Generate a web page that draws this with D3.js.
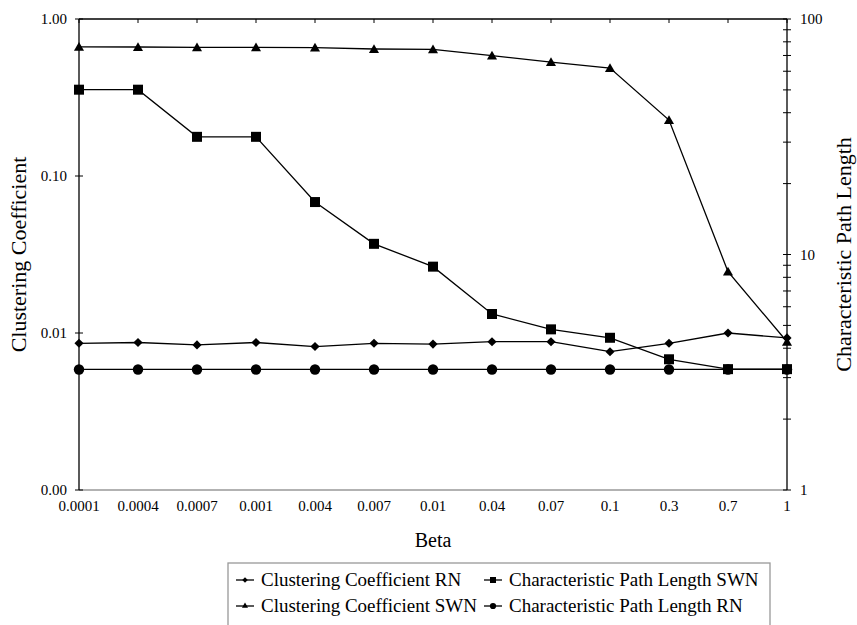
<!DOCTYPE html>
<html>
<head>
<meta charset="utf-8">
<script src="https://cdn.jsdelivr.net/npm/d3@7"></script>
<style>
  body { margin: 0; background: #fff; }
  svg text { font-family: "Liberation Serif", "Times New Roman", serif; fill: #000; }
</style>
</head>
<body>
<div id="vis"></div>
<script>
var betas = ["0.0001", "0.0004", "0.0007", "0.001", "0.004", "0.007", "0.01", "0.04", "0.07", "0.1", "0.3", "0.7", "1"];

// left axis (clustering coefficient)
var ccRN = [0.0086, 0.0087, 0.0084, 0.0087, 0.0082, 0.0086, 0.0085, 0.0088, 0.0088, 0.0076, 0.0086, 0.0100, 0.0093];
var ccSWN = [0.665, 0.663, 0.660, 0.660, 0.657, 0.644, 0.641, 0.584, 0.532, 0.487, 0.227, 0.0246, 0.0088];

// right axis (characteristic path length)
var cplSWN = [50.1, 50.1, 31.6, 31.6, 16.7, 11.1, 8.88, 5.59, 4.81, 4.43, 3.59, 3.26, 3.26];
var cplRN = [3.25, 3.25, 3.25, 3.25, 3.25, 3.25, 3.25, 3.25, 3.25, 3.25, 3.25, 3.25, 3.25];

var leftTicks = [0.001, 0.01, 0.1, 1];
var rightTicks = [1, 10, 100];

var W = 857, H = 625;
var margin = { top: 19, left: 79, right: 70, bottom: 135 };
var x0 = margin.left, x1 = W - margin.right;
var y0 = margin.top, y1 = H - margin.bottom;

var svg = d3.select("#vis").append("svg")
    .attr("width", W)
    .attr("height", H);

var xscale = d3.scalePoint().domain(betas).range([x0, x1]);
var yLeft = d3.scaleLog().domain([0.001, 1]).range([y1, y0]);
var yRight = d3.scaleLog().domain([1, 100]).range([y1, y0]);

// frame: top line with category ticks, bottom grey line
svg.append("line").attr("x1", x0).attr("x2", x1).attr("y1", y0).attr("y2", y0)
    .attr("stroke", "#000").attr("stroke-width", 1.3);
svg.selectAll(".topTick").data(betas).enter().append("line")
    .attr("x1", function(d) { return xscale(d); })
    .attr("x2", function(d) { return xscale(d); })
    .attr("y1", y0).attr("y2", y0 + 4)
    .attr("stroke", "#000").attr("stroke-width", 1);
svg.append("line").attr("x1", x0).attr("x2", x1).attr("y1", y1).attr("y2", y1)
    .attr("stroke", "#999").attr("stroke-width", 1.3);

// x labels
svg.selectAll(".xlab").data(betas).enter().append("text")
    .attr("x", function(d) { return xscale(d); })
    .attr("y", y1 + 21)
    .attr("text-anchor", "middle")
    .style("font-size", "15px")
    .text(function(d) { return d; });

// left axis
svg.append("line").attr("x1", x0).attr("x2", x0).attr("y1", y0).attr("y2", y1)
    .attr("stroke", "#000").attr("stroke-width", 1.3);
svg.selectAll(".lt").data(leftTicks).enter().append("line")
    .attr("x1", x0 - 4).attr("x2", x0 + 4)
    .attr("y1", function(d) { return yLeft(d); })
    .attr("y2", function(d) { return yLeft(d); })
    .attr("stroke", "#000");
svg.selectAll(".ll").data(leftTicks).enter().append("text")
    .attr("x", x0 - 12)
    .attr("y", function(d) { return yLeft(d) + 5; })
    .attr("text-anchor", "end")
    .style("font-size", "15px")
    .text(function(d) { return d3.format(".2f")(d); });

// right axis
svg.append("line").attr("x1", x1).attr("x2", x1).attr("y1", y0).attr("y2", y1)
    .attr("stroke", "#000").attr("stroke-width", 1.3);
var minor = [];
[1, 10].forEach(function(b) { for (var k = 1; k <= 10; k++) minor.push(b * k); });
svg.selectAll(".rt").data(minor).enter().append("line")
    .attr("x1", x1 - 4).attr("x2", x1 + 4)
    .attr("y1", function(d) { return yRight(d); })
    .attr("y2", function(d) { return yRight(d); })
    .attr("stroke", "#000");
svg.selectAll(".rl").data(rightTicks).enter().append("text")
    .attr("x", x1 + 13)
    .attr("y", function(d) { return yRight(d) + 5; })
    .style("font-size", "15px")
    .text(function(d) { return d; });

// axis titles
svg.append("text")
    .attr("transform", "translate(26," + ((y0 + y1) / 2) + ") rotate(-90)")
    .attr("text-anchor", "middle")
    .style("font-size", "22px")
    .text("Clustering Coefficient");
svg.append("text")
    .attr("transform", "translate(851," + ((y0 + y1) / 2) + ") rotate(-90)")
    .attr("text-anchor", "middle")
    .style("font-size", "22px")
    .text("Characteristic Path Length");
svg.append("text")
    .attr("x", (x0 + x1) / 2).attr("y", 547)
    .attr("text-anchor", "middle")
    .style("font-size", "20px")
    .text("Beta");

// series
var series = [
    { name: "Clustering Coefficient RN", values: ccRN, y: yLeft, shape: "diamond" },
    { name: "Clustering Coefficient SWN", values: ccSWN, y: yLeft, shape: "triangle" },
    { name: "Characteristic Path Length SWN", values: cplSWN, y: yRight, shape: "square" },
    { name: "Characteristic Path Length RN", values: cplRN, y: yRight, shape: "circle" }
];

function marker(shape, scale) {
    var s = scale || 1;
    if (shape === "diamond") return d3.symbol().type(d3.symbolSquare).size(42 * s * s)();
    if (shape === "triangle") return d3.symbol().type(d3.symbolTriangle).size(44 * s * s)();
    if (shape === "square") return d3.symbol().type(d3.symbolSquare).size(100 * s * s)();
    return d3.symbol().type(d3.symbolCircle).size(85 * s * s)();
}

series.forEach(function(s) {
    var line = d3.line()
        .x(function(d, i) { return xscale(betas[i]); })
        .y(function(d) { return s.y(d); });
    svg.append("path")
        .datum(s.values)
        .attr("d", line)
        .attr("fill", "none")
        .attr("stroke", "#000")
        .attr("stroke-width", 1.3);
    svg.selectAll(".m-" + s.shape).data(s.values).enter().append("path")
        .attr("d", marker(s.shape))
        .attr("transform", function(d, i) {
            var t = "translate(" + xscale(betas[i]) + "," + s.y(d) + ")";
            if (s.shape === "diamond") t += " rotate(45)";
            if (s.shape === "triangle") t += " translate(0,1)";
            return t;
        })
        .attr("fill", "#000");
});

// legend
var legend = svg.append("g");
legend.append("rect")
    .attr("x", 228).attr("y", 563)
    .attr("width", 542).attr("height", 80)
    .attr("fill", "none").attr("stroke", "#999").attr("stroke-width", 1.3);
var legPos = [[236, 580], [236, 606], [484, 580], [484, 606]];
series.forEach(function(s, i) {
    var p = legPos[i];
    var g = legend.append("g").attr("transform", "translate(" + p[0] + "," + p[1] + ")");
    g.append("line").attr("x1", 0).attr("x2", 18).attr("y1", 0).attr("y2", 0)
        .attr("stroke", "#000").attr("stroke-width", 1.3);
    g.append("path").attr("d", marker(s.shape, 0.6))
        .attr("transform", "translate(9,0)" + (s.shape === "diamond" ? " rotate(45)" : ""))
        .attr("fill", "#000");
    g.append("text").attr("x", 25).attr("y", 6)
        .style("font-size", "19px")
        .text(s.name);
});
</script>
</body>
</html>
